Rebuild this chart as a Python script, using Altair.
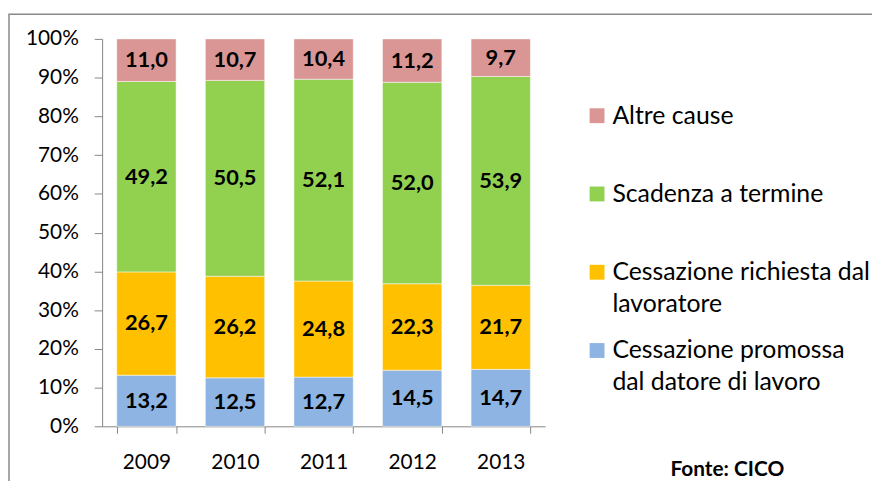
import altair as alt
import pandas as pd

years = ["2009", "2010", "2011", "2012", "2013"]
categories = [
    "Cessazione promossa dal datore di lavoro",
    "Cessazione richiesta dal lavoratore",
    "Scadenza a termine",
    "Altre cause",
]
promossa = [13.2, 12.5, 12.7, 14.5, 14.7]
richiesta = [26.7, 26.2, 24.8, 22.3, 21.7]
scadenza = [49.2, 50.5, 52.1, 52.0, 53.9]
altre = [11.0, 10.7, 10.4, 11.2, 9.7]
colors = ["#8DB4E2", "#FFC000", "#92D050", "#D99694"]
legend_lines = {
    "Altre cause": ["Altre cause"],
    "Scadenza a termine": ["Scadenza a termine"],
    "Cessazione richiesta dal lavoratore": ["Cessazione richiesta dal", "lavoratore"],
    "Cessazione promossa dal datore di lavoro": ["Cessazione promossa", "dal datore di lavoro"],
}
y_ticks = [0.0, 0.1, 0.2, 0.3, 0.4, 0.5, 0.6, 0.7, 0.8, 0.9, 1.0]
source_note = ["Fonte: CICO"]

series = [promossa, richiesta, scadenza, altre]
rows = []
for ci, (cat, vals) in enumerate(zip(categories, series)):
    for y, v in zip(years, vals):
        rows.append({"year": y, "cat": cat, "order": ci, "value": v,
                     "label": f"{v:.1f}".replace(".", ",")})
df = pd.DataFrame(rows)

legend_domain = list(reversed(categories))
legend_range = list(reversed(colors))

# legend label expression: every label two lines so all entries have equal height
expr = "''"
for cat, lines in legend_lines.items():
    padded = [lines[0], lines[1] if len(lines) > 1 else ""]
    arr = "[" + ", ".join("'" + s + "'" for s in padded) + "]"
    expr = f"datum.label == '{cat}' ? {arr} : ({expr})"

FONT = "Lato"
AX = "#868686"

base = alt.Chart(df).transform_stack(
    stack="value", groupby=["year"], as_=["y0", "y1"],
    sort=[alt.SortField("order", order="ascending")], offset="normalize"
).transform_calculate(mid="(datum.y0 + datum.y1) / 2")

x_axis = alt.Axis(title=None, labelAngle=0, tickBand="extent", tickSize=7,
                  labelPadding=19, domainColor=AX, tickColor=AX,
                  labelFont=FONT, labelFontSize=21, labelColor="black", grid=False)
y_axis = alt.Axis(title=None, values=y_ticks, format=".0%", tickSize=8,
                  labelPadding=16, labelOverlap=False, domainColor=AX, tickColor=AX,
                  labelFont=FONT, labelFontSize=21, labelColor="black", grid=False)
x_scale = alt.Scale(paddingInner=0.33, paddingOuter=0.165)
y_scale = alt.Scale(domain=[0, 1])

bars = base.mark_bar(stroke="white", strokeWidth=0.5).encode(
    x=alt.X("year:N", sort=years, scale=x_scale, axis=x_axis),
    y=alt.Y("y0:Q", scale=y_scale, axis=y_axis),
    y2="y1:Q",
    color=alt.Color("cat:N", scale=alt.Scale(domain=legend_domain, range=legend_range),
                    legend=alt.Legend(title=None, orient="none", legendX=487, legendY=65,
                                      symbolType="square", symbolSize=225, symbolStrokeWidth=0,
                                      labelFont=FONT, labelFontSize=25, labelColor="black",
                                      labelLimit=400, rowPadding=21, labelOffset=3,
                                      labelExpr=expr, padding=0)),
)

texts = base.mark_text(font=FONT, fontWeight="bold", fontSize=22, color="black").encode(
    x=alt.X("year:N", sort=years, scale=x_scale, axis=x_axis),
    y=alt.Y("mid:Q", scale=y_scale, axis=y_axis),
    text="label:N",
)

note = alt.Chart(pd.DataFrame({"t": source_note})).mark_text(
    font=FONT, fontWeight="bold", fontSize=21, color="black"
).encode(text="t:N", x=alt.value(631), y=alt.value(435))

frame = alt.Chart(pd.DataFrame({"t": source_note})).mark_rect(
    fillOpacity=0, stroke="#898989", strokeWidth=1.5
).encode(x=alt.value(-94), x2=alt.value(900), y=alt.value(-25), y2=alt.value(600))

chart = alt.layer(frame, bars, texts, note).properties(
    width=447, height=391,
    autosize=alt.AutoSizeParams(type="none"),
    padding={"left": 95, "top": 29, "right": 330, "bottom": 53},
).configure(
    style={"guide-label": {"lineHeight": 32}}
).configure_view(strokeWidth=0).configure_axis(grid=False)

chart.save("out.html", embed_options={"renderer": "svg", "actions": False})
